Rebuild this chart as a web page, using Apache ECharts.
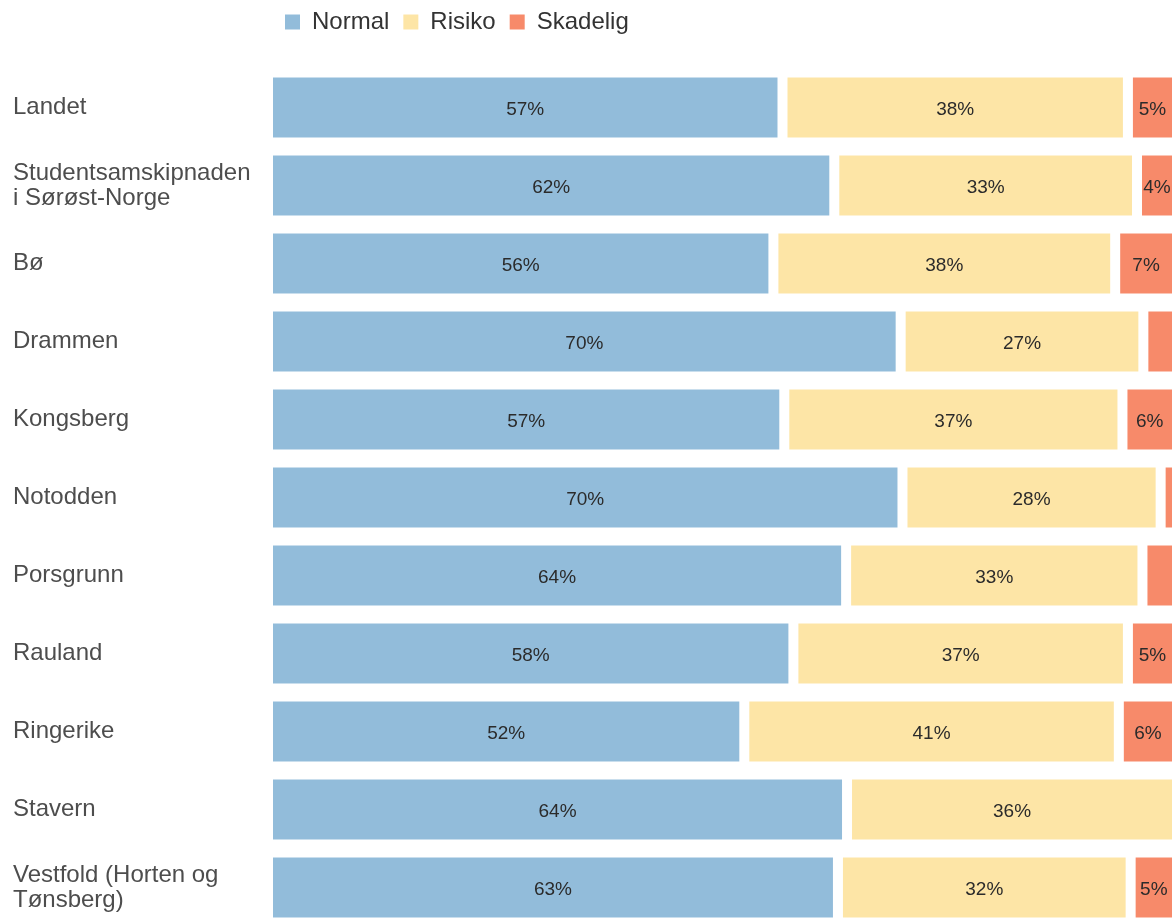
<!DOCTYPE html>
<html>
<head>
<meta charset="utf-8">
<script src="https://cdn.jsdelivr.net/npm/echarts@6/dist/echarts.min.js"></script>
<style>
  html, body { margin: 0; padding: 0; background: #fff; overflow: hidden; }
  /* a bit larger than the window so the bars can run off the right and bottom edges */
  #chart { width: 1190px; height: 940px; }
</style>
</head>
<body>
<div id="chart"></div>
<script>
// categories, top to bottom
const categories = [
  'Landet',
  'Studentsamskipnaden\ni Sørøst-Norge',
  'Bø',
  'Drammen',
  'Kongsberg',
  'Notodden',
  'Porsgrunn',
  'Rauland',
  'Ringerike',
  'Stavern',
  'Vestfold (Horten og\nTønsberg)'
];
// shares in percent
const normal   = [56.6, 62.3, 55.6, 69.6, 56.8, 69.8, 63.6, 57.8, 52.4, 63.7, 62.7];
const risiko   = [38.0, 33.3, 37.6, 26.7, 37.2, 28.4, 32.6, 36.8, 41.2, 36.3, 32.2];
const skadelig = [5.4, 4.4, 6.8, 3.7, 6.0, 1.8, 3.8, 5.4, 6.4, 0, 5.1];

const seriesNames = ['Normal', 'Risiko', 'Skadelig'];
const colors = ['#92BCDA', '#FDE5A6', '#F78A6A'];
const fontFamily = '"Liberation Sans", Arial, sans-serif';

const chart = echarts.init(document.getElementById('chart'));

const makeSeries = (name, data) => ({
  name,
  type: 'bar',
  stack: 'total',
  data,
  barWidth: 70,
  itemStyle: {
    borderColor: '#ffffff',
    borderWidth: 5
  },
  label: {
    show: true,
    position: 'inside',
    offset: [0, 2],
    color: '#2b2b2b',
    fontSize: 19,
    fontFamily,
    formatter: (p) => (p.value >= 4 ? Math.round(p.value) + '%' : '')
  },
  emphasis: { disabled: true }
});

chart.setOption({
  animation: false,
  color: colors,
  legend: {
    left: 278,
    top: 5,
    itemWidth: 17,
    itemHeight: 17,
    itemGap: 12,
    icon: 'rect',
    data: seriesNames,
    textStyle: {
      fontSize: 24,
      lineHeight: 24,
      color: '#333333',
      fontFamily,
      padding: [0, 0, 0, 6]
    }
  },
  grid: {
    left: 268,
    top: 68.5,
    width: 909,
    height: 858,
    containLabel: false
  },
  xAxis: {
    type: 'value',
    min: 0,
    max: 100,
    show: false
  },
  yAxis: {
    type: 'category',
    inverse: true,
    data: categories,
    axisLine: { show: false },
    axisTick: { show: false },
    splitLine: { show: false },
    axisLabel: {
      align: 'left',
      margin: 255,
      fontSize: 24,
      lineHeight: 25,
      padding: [10, 0, 0, 0],
      color: '#4D4D4D',
      fontFamily
    }
  },
  series: [
    makeSeries(seriesNames[0], normal),
    makeSeries(seriesNames[1], risiko),
    makeSeries(seriesNames[2], skadelig)
  ]
});
</script>
</body>
</html>
